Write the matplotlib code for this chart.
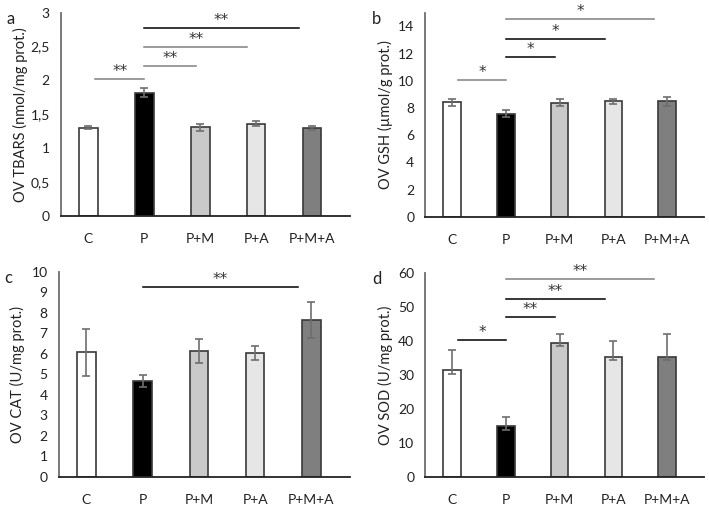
import matplotlib
matplotlib.use('Agg')
import matplotlib.pyplot as plt

plt.rcParams['font.family'] = ['Lato', 'DejaVu Sans']

GROUPS = ['C', 'P', 'P+M', 'P+A', 'P+M+A']
BAR_COLORS = ['white', 'black', '#c9c9c9', '#e6e6e6', '#7f7f7f']

tbars_mean = [1.30, 1.82, 1.31, 1.36, 1.30]
tbars_err = [0.02, 0.07, 0.05, 0.04, 0.03]
tbars_sig = [(0, 1, 2.02, '**'), (1, 2, 2.22, '**'), (1, 3, 2.49, '**'), (1, 4, 2.78, '**')]
tbars_sig_colors = ['#808080', '#808080', '#808080', 'black']

gsh_mean = [8.43, 7.59, 8.40, 8.48, 8.48]
gsh_err = [0.25, 0.25, 0.27, 0.20, 0.30]
gsh_sig = [(0, 1, 10.07, '*'), (1, 2, 11.74, '*'), (1, 3, 13.1, '*'), (1, 4, 14.55, '*')]
gsh_sig_colors = ['#808080', 'black', 'black', '#808080']

cat_mean = [6.07, 4.68, 6.13, 6.05, 7.63]
cat_err = [1.15, 0.27, 0.58, 0.34, 0.88]
cat_sig = [(1, 4, 9.27, '**')]
cat_sig_colors = ['black']

sod_mean = [31.4, 14.9, 39.5, 35.4, 35.4]
sod_err_up = [6.0, 2.6, 2.5, 4.5, 6.6]
sod_err_low = [1.1, 1.0, 1.1, 1.1, 1.1]
sod_sig = [(0, 1, 40.3, '*'), (1, 2, 47.1, '**'), (1, 3, 52.4, '**'), (1, 4, 58.1, '**')]
sod_sig_colors = ['black', 'black', 'black', '#808080']


def bar_panel(ax, means, err, ylabel, ylim, step, sig, sig_colors, letter, fmt='{:g}'):
    x = range(len(GROUPS))
    ax.bar(x, means, width=0.33, color=BAR_COLORS, edgecolor='#3a3a3a', linewidth=1.2,
           zorder=2)
    ax.errorbar(x, means, yerr=err, fmt='none', ecolor='#6e6e6e', elinewidth=1.2,
                capsize=3, capthick=1.2, zorder=3)
    ax.set_ylim(*ylim)
    ax.set_xlim(-0.49, 4.68)
    ticks = [i * step for i in range(int(round(ylim[1] / step)) + 1) if i * step <= ylim[1] + 1e-9]
    ax.set_yticks(ticks)
    ax.set_yticklabels([fmt.format(t).replace('.', ',') for t in ticks])
    ax.set_xticks(list(x))
    ax.set_xticklabels(GROUPS)
    ax.tick_params(length=0, labelsize=10, colors='#222222')
    ax.tick_params(axis='x', pad=12)
    ax.tick_params(axis='y', pad=8)
    for s in ['top', 'right']:
        ax.spines[s].set_visible(False)
    ax.spines['left'].set_color('#6e6e6e')
    ax.spines['left'].set_linewidth(1.3)
    ax.spines['bottom'].set_color('#222222')
    ax.spines['bottom'].set_linewidth(1.3)
    ax.set_ylabel(ylabel, fontsize=10.5, color='#222222')
    ax.yaxis.set_label_coords(-0.115, 0.5)
    for (i, j, h, lab), c in zip(sig, sig_colors):
        x0 = i + 0.12 if i == 0 else i
        x1 = j - 0.08 * (j - 1)
        ax.plot([x0, x1], [h, h], color=c, linewidth=1.1, clip_on=False)
        ax.annotate(lab, ((x0 + x1) / 2, h), xytext=(0, 0), textcoords='offset points',
                    ha='center', va='bottom', fontsize=11, color='#333333',
                    family='DejaVu Sans', annotation_clip=False)
    ax.text(-0.175, 0.97, letter, transform=ax.transAxes, fontsize=12, va='center',
            ha='center', color='#222222')


fig = plt.figure(figsize=(7.09, 5.08), dpi=100)
ax_a = fig.add_axes([0.086, 0.575, 0.408, 0.400])
ax_b = fig.add_axes([0.600, 0.573, 0.393, 0.402])
ax_c = fig.add_axes([0.083, 0.061, 0.410, 0.404])
ax_d = fig.add_axes([0.600, 0.061, 0.393, 0.402])

bar_panel(ax_a, tbars_mean, tbars_err, 'OV TBARS (nmol/mg prot.)', (0, 3), 0.5,
          tbars_sig, tbars_sig_colors, 'a')
bar_panel(ax_b, gsh_mean, gsh_err, 'OV GSH (\u00b5mol/g prot.)', (0, 15), 2,
          gsh_sig, gsh_sig_colors, 'b')
ax_b.set_yticks(range(0, 15, 2))
ax_b.set_yticklabels([str(t) for t in range(0, 15, 2)])
bar_panel(ax_c, cat_mean, cat_err, 'OV CAT (U/mg prot.)', (0, 10), 1,
          cat_sig, cat_sig_colors, 'c')
bar_panel(ax_d, sod_mean, [sod_err_low, sod_err_up], 'OV SOD (U/mg prot.)', (0, 60), 10,
          sod_sig, sod_sig_colors, 'd')

fig.savefig('out.png', dpi=100, facecolor='white')
